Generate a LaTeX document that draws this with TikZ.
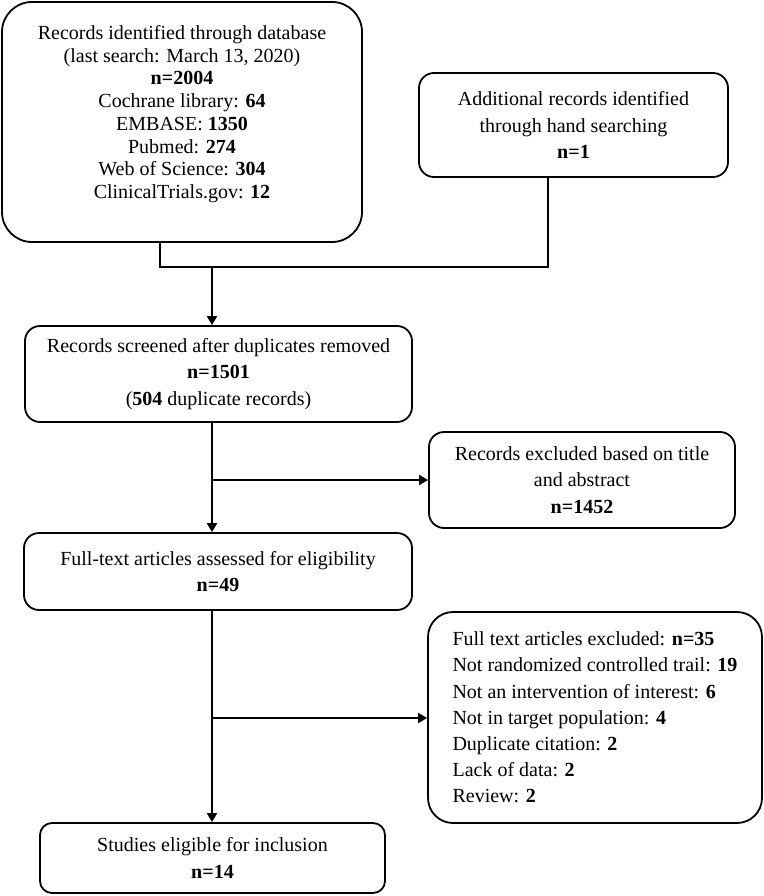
\documentclass[tikz,border=0pt]{standalone}
\usepackage{fontspec}
\setmainfont{Liberation Serif}
\usetikzlibrary{arrows.meta}

\begin{document}
\begin{tikzpicture}[x=1pt, y=-1pt,
		box/.style={draw, line width=1.8pt, rounded corners=15pt, align=center, inner sep=0pt,
			font=\fontsize{20}{26.5}\selectfont},
		link/.style={line width=2pt},
		arr/.style={link, -{Triangle[length=9pt,width=10pt]}}]
			\useasboundingbox (0,0) rectangle (763,896);
			\node [box, rounded corners=30pt, minimum width=360, minimum height=240,
				font=\fontsize{20}{22.7}\selectfont] (db) at (182,122)
				{Records identified through database\\(last search: March 13, 2020)\\\textbf{n=2004}\\
				Cochrane library: \textbf{64}\\EMBASE: \textbf{1350}\\Pubmed: \textbf{274}\\
				Web of Science: \textbf{304}\\ClinicalTrials.gov: \textbf{12}\rule[-20pt]{0pt}{20pt}};
			\node [box, minimum width=309, minimum height=104] (hand) at (573.5,125)
				{Additional records identified\\through hand searching\\\textbf{n=1}};
			\node [box, minimum width=387, minimum height=96] (screen) at (218.5,374)
				{Records screened after duplicates removed\\\textbf{n=1501}\\(\textbf{504} duplicate records)};
			\node [box, minimum width=306, minimum height=96] (excl) at (582,480)
				{Records excluded based on title\\and abstract\\\textbf{n=1452}};
			\node [box, minimum width=388, minimum height=77] (full) at (218,571.5)
				{Full-text articles assessed for eligibility\\\textbf{n=49}};
			\node [box, rounded corners=25pt, align=left, minimum width=334, minimum height=211,
				font=\fontsize{20}{26.2}\selectfont] (fexcl) at (595,717.5)
				{Full text articles excluded: \textbf{n=35}\\Not randomized controlled trail: \textbf{19}\\
				Not an intervention of interest: \textbf{6}\\Not in target population: \textbf{4}\\
				Duplicate citation: \textbf{2}\\Lack of data: \textbf{2}\\Review: \textbf{2}};
			\node [box, rounded corners=12pt, minimum width=345, minimum height=70] (incl) at (212.5,858)
				{Studies eligible for inclusion\\\textbf{n=14}};
			\coordinate (jl) at (160,267);
			\coordinate (jr) at (548,267);
			\coordinate (jm) at (212,267);
			\coordinate (br1) at (212,480);
			\coordinate (br2) at (212,718);
			\draw [link] (jl |- db.south) -- (jl) -- (jr) -- (jr |- hand.south);
			\draw [arr] (jm) -- (jm |- screen.north);
			\draw [arr] (jm |- screen.south) -- (jm |- full.north);
			\draw [arr] (jm |- full.south) -- (jm |- incl.north);
			\draw [arr] (br1) -- (br1 -| excl.west);
			\draw [arr] (br2) -- (br2 -| fexcl.west);
		\end{tikzpicture}
\end{document}
